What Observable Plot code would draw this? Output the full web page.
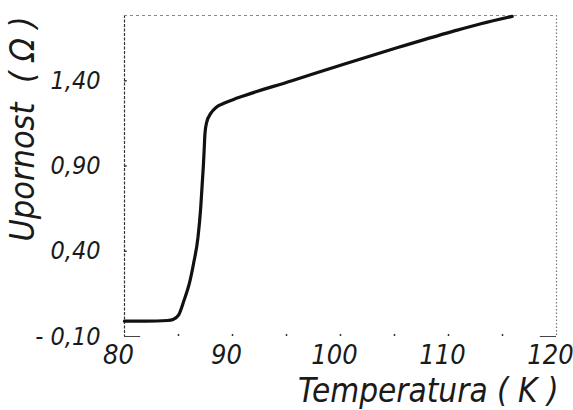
<!DOCTYPE html>
<html>
<head>
<meta charset="utf-8">
<script src="https://cdn.jsdelivr.net/npm/d3@7"></script>
<script src="https://cdn.jsdelivr.net/npm/@observablehq/plot@0.6"></script>
<style>
  html, body { margin: 0; padding: 0; background: #fff; }
  #chart svg { display: block; }
</style>
</head>
<body>
<div id="chart"></div>
<script>
// Data
const temperature = [80, 82, 84, 84.5, 85, 85.5, 86, 86.4, 86.8, 87.05, 87.2, 87.3, 87.38, 87.45, 87.6, 88, 88.5, 89.2, 90.5, 95.5, 100.3, 105.3, 110.4, 113, 115.9];
const resistance  = [-0.01, -0.01, -0.006, 0.0, 0.025, 0.11, 0.21, 0.33, 0.48, 0.65, 0.80, 0.90, 1.0, 1.09, 1.155, 1.21, 1.245, 1.268, 1.30, 1.40, 1.497, 1.595, 1.690, 1.735, 1.778];
const xTicks = [80, 90, 100, 110, 120];
const yTicks = [-0.10, 0.40, 0.90, 1.40];
const minorX = [85, 90, 95, 100, 105, 110, 115];
const minorY = [0.40, 0.90, 1.40];
const xDomain = [80, 120];
const yDomain = [-0.10, 1.783];
const xTitle = "Temperatura ( K )";
const yTitle = "Upornost  ( Ω )";

const data = temperature.map((t, i) => ({t, r: resistance[i]}));
const fmtY = d => (d < 0 ? "- " : "") + Math.abs(d).toFixed(2).replace(".", ",");
const font = "'Liberation Sans Narrow', 'DejaVu Sans Condensed', 'Liberation Sans', sans-serif";

const chart = Plot.plot({
  width: 573,
  height: 410,
  marginLeft: 124,
  marginRight: 17,
  marginTop: 15,
  marginBottom: 74,
  x: {domain: xDomain},
  y: {domain: yDomain},
  style: {background: "#fff", color: "#1a1a1a", fontFamily: font, fontStyle: "italic", overflow: "visible"},
  marks: [
    // frame, scanned look
    Plot.ruleX([xDomain[0]], {stroke: "#333", strokeWidth: 1.2, strokeDasharray: "3,1.5"}),
    Plot.ruleX([xDomain[1]], {stroke: "#777", strokeWidth: 1.2, strokeDasharray: "1.5,2"}),
    Plot.ruleY([yDomain[1]], {stroke: "#888", strokeWidth: 1.2, strokeDasharray: "3,3"}),
    Plot.ruleY([yDomain[0]], {x1: xDomain[0], x2: xDomain[0] + 1.5, stroke: "#444", strokeWidth: 1}),
    Plot.ruleY([yDomain[0]], {x1: xDomain[1] - 1.5, x2: xDomain[1], stroke: "#444", strokeWidth: 1}),
    // small inner tick marks
    Plot.ruleX(minorX, {x: d => d, y1: yDomain[0], y2: yDomain[0] + 0.012, stroke: "#333", strokeWidth: 1.5}),
    Plot.ruleY(minorY, {y: d => d, x1: xDomain[0], x2: xDomain[0] + 0.25, stroke: "#333", strokeWidth: 1.5}),
    // axes
    Plot.axisX(xTicks, {tickSize: 0, tickPadding: 8, fontSize: 27, dx: -6, tickFormat: d => String(d), label: null}),
    Plot.axisY(yTicks, {tickSize: 0, tickPadding: 24, fontSize: 25, tickFormat: fmtY, label: null}),
    // axis titles
    Plot.text([xTitle], {frameAnchor: "bottom-right", textAnchor: "end", dx: 2, dy: 65, fontSize: 33, fill: "#1a1a1a"}),
    Plot.text([yTitle], {frameAnchor: "left", textAnchor: "middle", rotate: -90, dx: -101, dy: -47, fontSize: 34, fill: "#1a1a1a"}),
    // the curve
    Plot.line(data, {x: "t", y: "r", stroke: "#111", strokeWidth: 3.2, curve: "monotone-x"})
  ]
});
document.getElementById("chart").appendChild(chart);
</script>
</body>
</html>
